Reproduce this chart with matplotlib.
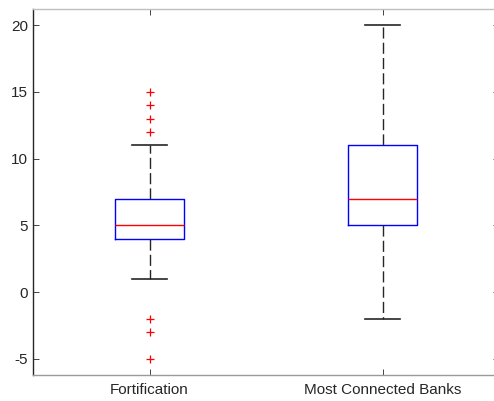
import matplotlib
matplotlib.use('Agg')
import matplotlib.pyplot as plt

matplotlib.rcParams['font.family'] = ['Liberation Sans', 'DejaVu Sans']
matplotlib.rcParams['axes.unicode_minus'] = False

# ── data ───────────────────────────────────────────────────
labels   = ["Fortification", "Most Connected Banks"]
q1       = [4, 5]
medians  = [5, 7]
q3       = [7, 11]
whislo   = [1, -2]
whishi   = [11, 20]
fliers   = [[15, 14, 13, 12, -2, -3, -5], []]

stats = []
for i in range(len(labels)):
    stats.append({'label': labels[i], 'q1': q1[i], 'med': medians[i],
                  'q3': q3[i], 'whislo': whislo[i], 'whishi': whishi[i],
                  'fliers': fliers[i]})

fig = plt.figure(figsize=(4.94, 4.01), dpi=100)
ax = fig.add_axes([33/494, 26/401, 466/494, 366/401])

ax.bxp(stats, positions=[1, 2], widths=0.3,
       boxprops={'color': '#0000ff', 'linewidth': 1.0},
       medianprops={'color': '#ff0000', 'linewidth': 1.0},
       whiskerprops={'color': '#262626', 'linewidth': 1.0,
                     'linestyle': (0, (8, 3))},
       capprops={'color': '#262626', 'linewidth': 1.2},
       flierprops={'marker': '+', 'markeredgecolor': '#ff0000',
                   'markersize': 5.5, 'markeredgewidth': 0.9,
                   'linestyle': 'none'})

ax.set_xlim(0.5, 2.5)
ax.set_ylim(-6.2, 21.2)
ax.set_yticks([-5, 0, 5, 10, 15, 20])
ax.set_xticks([1, 2])
ax.set_xticklabels(labels)
ax.tick_params(direction='in', length=4, width=0.6, colors='#262626',
               labelsize=11, top=True, right=True)
ax.tick_params(axis='x', pad=6)

ax.spines['left'].set_color('#262626')
ax.spines['bottom'].set_color('#9a9a9a')
ax.spines['top'].set_color('#c0c0c0')
ax.spines['right'].set_color('#262626')
for s in ax.spines.values():
    s.set_linewidth(1.0)

fig.savefig('out.png', dpi=100)
